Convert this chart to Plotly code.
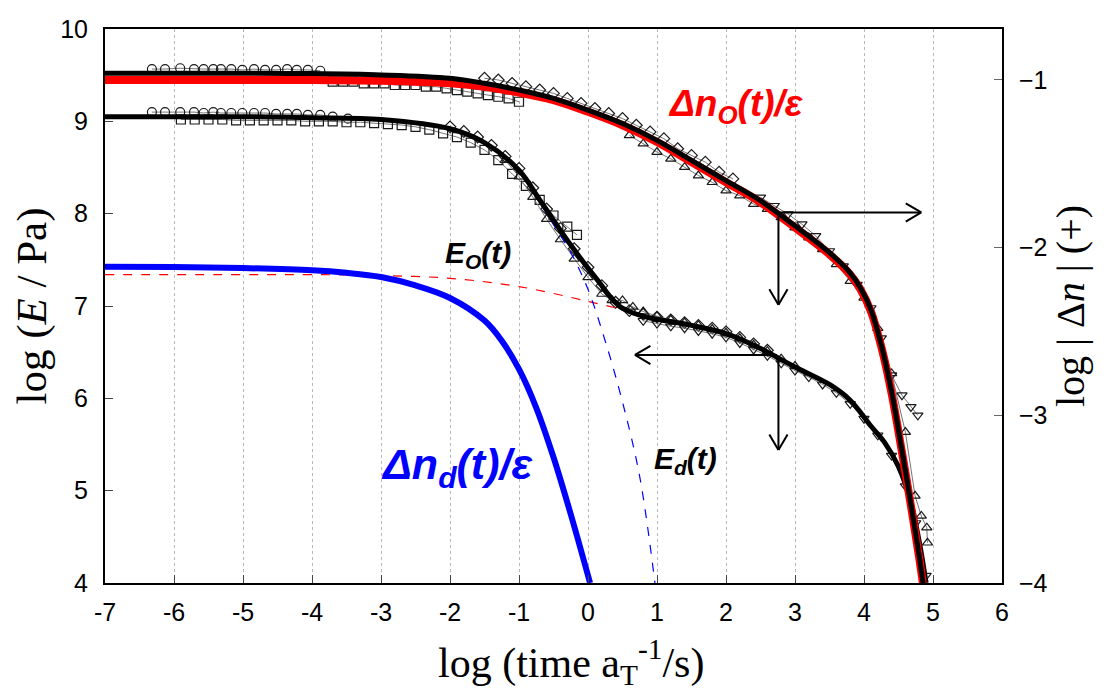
import plotly.graph_objects as go

# ---------------- data ----------------
# upper group: birefringence  log|Δn|  (right axis)
dn_fit_x = [-7, -5, -4, -3, -2, -1.5, -1, -0.5, 0, 0.5, 1, 1.5, 2, 2.5, 3, 3.5, 3.8, 3.95, 4.1, 4.25, 4.4,
            4.55, 4.7, 4.8, 4.87]
dn_fit_y = [-0.96, -0.96, -0.962, -0.97, -0.99, -1.02, -1.06, -1.11, -1.18, -1.26, -1.36, -1.48, -1.60, -1.72,
            -1.87, -2.03, -2.15, -2.24, -2.37, -2.58, -2.86, -3.21, -3.58, -3.84, -4.04]
dno_x = [-7, -5, -4, -3, -2, -1.5, -1, -0.5, 0, 0.5, 1, 1.5, 2, 2.5, 3, 3.5, 3.8, 3.95, 4.1, 4.25, 4.4,
         4.55, 4.7, 4.8, 4.87]
dno_y = [-1.0, -1.0, -1.0, -1.005, -1.02, -1.04, -1.075, -1.12, -1.19, -1.27, -1.37, -1.49, -1.61, -1.73,
         -1.88, -2.04, -2.16, -2.25, -2.38, -2.59, -2.87, -3.22, -3.59, -3.85, -4.05]
dnd_x = [-7, -6, -5, -4, -3.5, -3, -2.5, -2, -1.5, -1.25, -1, -0.75, -0.5, -0.25, 0.03]
dnd_y = [-2.114, -2.116, -2.122, -2.135, -2.15, -2.175, -2.225, -2.30, -2.435, -2.555, -2.725, -2.955, -3.25,
         -3.59, -4.0]

dn_circ_x = [-6.32, -6.13, -5.91, -5.71, -5.57, -5.43, -5.32, -5.17, -5.01, -4.84, -4.68, -4.52, -4.36, -4.22,
             -4.06, -3.88]
dn_circ_y = [-0.935, -0.935, -0.93, -0.935, -0.935, -0.935, -0.935, -0.935, -0.94, -0.935, -0.94, -0.94, -0.935,
             -0.94, -0.94, -0.945]
dn_sq_x = [-3.7, -3.55, -3.4, -3.25, -3.1, -2.95, -2.8, -2.65, -2.5, -2.35, -2.2, -2.05, -1.9, -1.75, -1.6, -1.45,
           -1.3, -1.15, -1.0]
dn_sq_y = [-1.01, -1.01, -1.01, -1.02, -1.02, -1.02, -1.03, -1.03, -1.03, -1.04, -1.04, -1.05, -1.06, -1.07,
           -1.08, -1.09, -1.10, -1.11, -1.13]
dn_dia_x = [-1.5, -1.3, -1.1, -0.9, -0.7, -0.5, -0.3, -0.1, 0.1, 0.3, 0.5, 0.7, 0.9, 1.1, 1.3, 1.5, 1.7, 1.9, 2.1]
dn_dia_y = [-0.99, -1.0, -1.02, -1.04, -1.06, -1.08, -1.11, -1.14, -1.17, -1.2, -1.23, -1.27, -1.31, -1.35, -1.41,
            -1.45, -1.49, -1.55, -1.59]
dn_tup_x = [0.6, 0.8, 1.0, 1.2, 1.4, 1.6, 1.8, 2.0, 2.2, 2.4, 2.6, 2.8, 3.0, 3.2, 3.4, 3.6, 3.8, 4.0, 4.2, 4.4,
            4.6, 4.74, 4.83, 4.91, 4.92]
dn_tup_y = [-1.33, -1.38, -1.43, -1.47, -1.52, -1.57, -1.61, -1.66, -1.69, -1.74, -1.77, -1.82, -1.88, -1.94,
            -2.01, -2.1, -2.2, -2.3, -2.48, -2.75, -3.1, -3.48, -3.6, -3.67, -3.76]
dn_tdn_x = [2.5, 2.7, 2.9, 3.1, 3.3, 3.5, 3.7, 3.9, 4.1, 4.25, 4.4, 4.55, 4.68, 4.78]
dn_tdn_y = [-1.70, -1.75, -1.80, -1.86, -1.93, -2.02, -2.11, -2.22, -2.36, -2.54, -2.76, -2.88, -2.95, -3.0]

# lower group: tensile modulus  log E  (left axis)
e_fit_x = [-7, -5, -4, -3, -2, -1.5, -1, -0.7, -0.5, -0.25, 0, 0.17, 0.3, 0.45, 0.6, 0.75, 0.9, 1.5, 2, 2.5,
           2.75, 3, 3.5, 3.8, 4.1, 4.3, 4.5, 4.67, 4.8, 4.9]
e_fit_y = [9.05, 9.05, 9.04, 9.02, 8.92, 8.77, 8.47, 8.15, 7.93, 7.66, 7.41, 7.25, 7.12, 7.0, 6.94, 6.9, 6.87,
           6.79, 6.70, 6.54, 6.44, 6.34, 6.15, 5.98, 5.70, 5.52, 5.26, 4.90, 4.45, 4.0]
eo_x = [-7, -5, -4, -3, -2, -1, 0, 0.5, 0.9, 1.5, 2, 2.5, 3, 3.5, 3.8, 4.1, 4.3, 4.5, 4.67, 4.8, 4.9]
eo_y = [7.34, 7.34, 7.34, 7.33, 7.30, 7.21, 7.05, 6.96, 6.87, 6.79, 6.70, 6.54, 6.34, 6.15, 5.98, 5.70, 5.52,
        5.26, 4.90, 4.45, 4.0]
ed_x = [-7, -5, -3, -2, -1.5, -1, -0.7, -0.5, -0.25, 0, 0.25, 0.5, 0.75, 0.97]
ed_y = [9.04, 9.04, 9.01, 8.91, 8.76, 8.45, 8.12, 7.88, 7.58, 7.18, 6.62, 5.96, 5.15, 4.0]

e_circ_x = [-6.32, -6.13, -5.91, -5.71, -5.57, -5.43, -5.32, -5.17, -5.01, -4.84, -4.68, -4.52, -4.36, -4.22,
            -4.06, -3.88, -3.7, -3.48]
e_circ_y = [9.10, 9.10, 9.10, 9.10, 9.09, 9.10, 9.09, 9.09, 9.09, 9.09, 9.09, 9.08, 9.08, 9.08, 9.07, 9.07,
            9.05, 9.03]
e_sq_x = [-5.9, -5.7, -5.5, -5.3, -5.1, -4.9, -4.7, -4.5, -4.3, -4.1, -3.9, -3.7, -3.5, -3.3, -3.1, -2.9, -2.7,
          -2.5, -2.3, -2.1, -1.9, -1.7, -1.5, -1.3, -1.1, -0.9, -0.7, -0.5, -0.3, -0.16]
e_sq_y = [9.02, 9.02, 9.02, 9.02, 9.01, 9.01, 9.01, 9.01, 9.01, 9.0, 9.0, 9.0, 8.99, 8.99, 8.98, 8.97, 8.96,
          8.94, 8.91, 8.87, 8.83, 8.77, 8.69, 8.58, 8.43, 8.30, 8.15, 7.98, 7.86, 7.77]
e_dia_x = [-2.0, -1.8, -1.6, -1.4, -1.2, -1.0, -0.8, -0.6, -0.4, -0.2, 0.0, 0.2, 0.4, 0.6, 0.8, 1.0, 1.2, 1.4,
           1.6, 1.8, 2.0, 2.2, 2.4, 2.6]
e_dia_y = [8.94, 8.89, 8.83, 8.74, 8.62, 8.49, 8.28, 8.05, 7.84, 7.62, 7.42, 7.22, 7.04, 6.95, 6.91, 6.88, 6.85,
           6.82, 6.79, 6.76, 6.72, 6.66, 6.59, 6.52]
e_tup_x = [-1.2, -1.0, -0.8, -0.6, -0.4, -0.2, 0.0, 0.2, 0.35, 0.5, 0.65, 0.8, 1.0, 1.2, 1.4, 1.6, 1.8, 2.0,
           2.2, 2.4, 2.6, 2.8, 3.0]
e_tup_y = [8.58, 8.40, 8.18, 7.94, 7.72, 7.51, 7.31, 7.13, 7.06, 7.06, 6.99, 6.94, 6.89, 6.85, 6.82, 6.79, 6.75,
           6.71, 6.65, 6.58, 6.51, 6.43, 6.35]
e_tdn_x = [0.8, 1.0, 1.2, 1.4, 1.6, 1.8, 2.0, 2.2, 2.4, 2.6, 2.8, 3.0, 3.2, 3.4, 3.6, 3.8, 4.0, 4.2, 4.4, 4.6,
           4.75, 4.9]
e_tdn_y = [6.84, 6.81, 6.78, 6.76, 6.73, 6.70, 6.66, 6.60, 6.53, 6.46, 6.38, 6.30, 6.23, 6.15, 6.06, 5.94, 5.78,
           5.60, 5.38, 5.05, 4.65, 4.08]

x_ticks = [-7, -6, -5, -4, -3, -2, -1, 0, 1, 2, 3, 4, 5, 6]
yl_ticks = [4, 5, 6, 7, 8, 9, 10]
yr_ticks = [-4, -3, -2, -1]

# ---------------- figure ----------------
fig = go.Figure()

def data_set(x, y, symbol, yaxis):
    fig.add_trace(go.Scatter(
        x=x, y=y, mode="lines+markers", yaxis=yaxis, showlegend=False,
        line=dict(color="#777777", width=1),
        marker=dict(symbol=symbol, size=9, color="#1a1a1a", line=dict(width=1.2, color="#1a1a1a"))))

for xs, ys, sym in [(dn_circ_x, dn_circ_y, "circle-open"), (dn_sq_x, dn_sq_y, "square-open"),
                    (dn_dia_x, dn_dia_y, "diamond-open"), (dn_tup_x, dn_tup_y, "triangle-up-open"),
                    (dn_tdn_x, dn_tdn_y, "triangle-down-open")]:
    data_set(xs, ys, sym, "y2")
for xs, ys, sym in [(e_circ_x, e_circ_y, "circle-open"), (e_sq_x, e_sq_y, "square-open"),
                    (e_dia_x, e_dia_y, "diamond-open"), (e_tup_x, e_tup_y, "triangle-up-open"),
                    (e_tdn_x, e_tdn_y, "triangle-down-open")]:
    data_set(xs, ys, sym, "y")

def curve(x, y, color, width, yaxis, dash="solid"):
    fig.add_trace(go.Scatter(x=x, y=y, mode="lines", yaxis=yaxis, showlegend=False,
                             line=dict(color=color, width=width, dash=dash, shape="spline", smoothing=1.0)))

curve(eo_x, eo_y, "#ff0000", 1.2, "y", "dash")
curve(ed_x, ed_y, "#0000ff", 1.2, "y", "dash")
curve(e_fit_x, e_fit_y, "#000000", 5, "y")
curve(dno_x, dno_y, "#ff0000", 8, "y2")
curve(dn_fit_x, dn_fit_y, "#000000", 5, "y2")
curve(dnd_x, dnd_y, "#0000ff", 6, "y2")

# ---------------- arrows ----------------
def shaft(x0, y0, x1, y1, yref):
    fig.add_annotation(x=x1, y=y1, ax=x0, ay=y0, xref="x", yref=yref, axref="x", ayref=yref,
                       text="", showarrow=True, arrowhead=0, arrowwidth=2, arrowcolor="black", standoff=0)

def arm(x, y, yref, ax, ay):
    fig.add_annotation(x=x, y=y, xref="x", yref=yref, ax=ax, ay=ay, text="", showarrow=True,
                       arrowhead=0, arrowwidth=2, arrowcolor="black", standoff=0)

# upper (points to right axis)
shaft(2.76, -1.79, 4.83, -1.79, "y2")
arm(4.83, -1.79, "y2", -17, -10)
arm(4.83, -1.79, "y2", -17, 10)
shaft(2.76, -1.79, 2.76, -2.34, "y2")
arm(2.76, -2.34, "y2", -10, -17)
arm(2.76, -2.34, "y2", 10, -17)
# lower (points to left axis)
shaft(2.76, 6.47, 0.68, 6.47, "y")
arm(0.68, 6.47, "y", 17, -10)
arm(0.68, 6.47, "y", 17, 10)
shaft(2.76, 6.47, 2.76, 5.44, "y")
arm(2.76, 5.44, "y", -10, -17)
arm(2.76, 5.44, "y", 10, -17)

# ---------------- labels ----------------
lab_font = "Liberation Sans, Arial, sans-serif"
serif = "Liberation Serif, Times New Roman, serif"
fig.add_annotation(x=2.15, y=9.17, xref="x", yref="y", showarrow=False,
                   text="<b><i>Δn<sub>O</sub>(t)/ε</i></b>", font=dict(family=lab_font, size=37, color="#ff0000"))
fig.add_annotation(x=-1.6, y=7.56, xref="x", yref="y", showarrow=False,
                   text="<b><i>E<sub>O</sub>(t)</i></b>", font=dict(family=lab_font, size=30, color="black"))
fig.add_annotation(x=1.41, y=5.33, xref="x", yref="y", showarrow=False,
                   text="<b><i>E<sub>d</sub>(t)</i></b>", font=dict(family=lab_font, size=30, color="black"))
fig.add_annotation(x=-1.9, y=5.26, xref="x", yref="y", showarrow=False,
                   text="<b><i>Δn<sub>d</sub>(t)/ε</i></b>", font=dict(family=lab_font, size=43, color="#0000ff"))
# x-axis title (placed as in the reference, slightly right of centre)
fig.add_annotation(x=0.52, y=-0.142, xref="paper", yref="paper", showarrow=False, yanchor="middle",
                   text="log (time a<sub>T</sub><sup>-1</sup>/s)", font=dict(family=serif, size=42, color="black"))

tick_font = dict(family=lab_font, size=25, color="black")

# the page adds an 8 px body margin, so the margins are shifted to keep the plot area in place
fig.update_layout(
    width=1104, height=690,
    margin=dict(l=97, r=110, t=21, b=115, autoexpand=False),
    paper_bgcolor="white", plot_bgcolor="white",
    xaxis=dict(range=[-7, 6], tickmode="array", tickvals=x_ticks, ticktext=[str(v) for v in x_ticks],
               showgrid=True, gridcolor="#b8b8b8", griddash="dot", gridwidth=1, zeroline=False,
               showline=True, linecolor="black", linewidth=2, mirror=True, automargin=False,
               ticks="inside", ticklen=8, tickcolor="#444444", tickfont=tick_font, ticklabelstandoff=6),
    yaxis=dict(range=[4, 10], tickmode="array", tickvals=yl_ticks, showgrid=False, zeroline=False,
               showline=True, linecolor="black", linewidth=2, mirror=True, automargin=False,
               ticks="inside", ticklen=8, tickcolor="#444444", tickfont=tick_font, ticklabelstandoff=10,
               title=dict(text="log (<i>E</i> / Pa)", font=dict(family=serif, size=43, color="black"),
                          standoff=2)),
    yaxis2=dict(range=[-4, -0.696], tickmode="array", tickvals=yr_ticks, overlaying="y", side="right",
                showgrid=False, zeroline=False, showline=True, linecolor="black", linewidth=2,
                automargin=False,
                ticks="inside", ticklen=8, tickcolor="#666666", tickfont=tick_font, ticklabelstandoff=10,
                title=dict(text="log | Δ<i>n</i> | (+)", font=dict(family=serif, size=40, color="black"),
                           standoff=8)),
)

fig.write_html("out.html")
